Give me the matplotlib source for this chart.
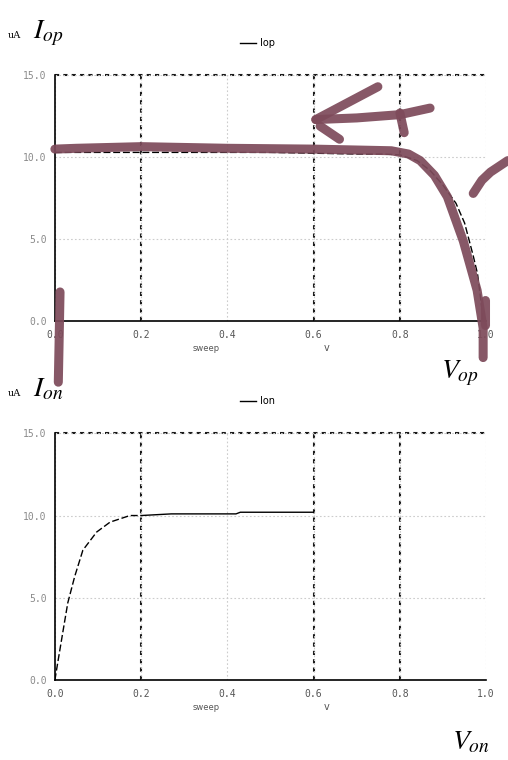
import matplotlib.pyplot as plt
from matplotlib.lines import Line2D

plt.rcParams['mathtext.fontset'] = 'stix'

# curve data (V in volts, I in uA)
v_op = [0.0, 0.1, 0.2, 0.3, 0.4, 0.5, 0.6, 0.7, 0.76, 0.80, 0.84, 0.87, 0.90, 0.93, 0.95, 0.97, 0.98, 0.99, 0.993]
i_op = [10.3, 10.3, 10.3, 10.3, 10.3, 10.3, 10.25, 10.2, 10.2, 10.15, 9.8, 9.2, 8.3, 7.2, 6.0, 4.0, 2.9, 0.8, 0.0]

v_on = [0.0, 0.005, 0.019, 0.03, 0.046, 0.065, 0.097, 0.128, 0.174, 0.2, 0.27, 0.42, 0.43, 0.6]
i_on = [0.0, 0.8, 3.0, 4.7, 6.3, 7.9, 9.0, 9.6, 10.0, 10.0, 10.1, 10.1, 10.2, 10.2]
n_rise = 10  # points of the rising (dashed) part of Ion

# hand-drawn marker strokes on the upper plot
mark_main_v = [0.0, 0.05, 0.2, 0.4, 0.6, 0.78, 0.82, 0.847, 0.88, 0.91, 0.947, 0.979, 0.993, 0.993]
mark_main_i = [10.5, 10.55, 10.65, 10.55, 10.5, 10.4, 10.2, 9.8, 8.9, 7.6, 4.9, 1.9, -0.4, -2.2]
mark_check_v = [0.749, 0.605]
mark_check_i = [14.3, 12.3]
mark_tail_v = [0.615, 0.66]
mark_tail_i = [11.9, 11.1]
mark_arm_v = [0.605, 0.70, 0.80, 0.87]
mark_arm_i = [12.3, 12.4, 12.6, 13.0]
mark_blob_v = [0.80, 0.81]
mark_blob_i = [12.7, 11.5]
mark_tip_v = [0.997, 0.997]
mark_tip_i = [1.3, -0.2]
mark_left_v = [0.012, 0.01, 0.008]
mark_left_i = [1.8, -1.0, -3.7]
mark_arc_v = [0.97, 0.99, 1.01, 1.05]
mark_arc_i = [7.8, 8.6, 9.1, 9.8]

x_ticks = [0.0, 0.2, 0.4, 0.6, 0.8, 1.0]
x_labels = ['0.0', '0.2', '0.4', '0.6', '0.8', '1.0']
y_ticks = [0.0, 5.0, 10.0, 15.0]
y_labels = ['0.0', '5.0', '10.0', '15.0']
heavy_v = [0.2, 0.6, 0.8]

marker_color = '#7e4b5b'
tick_color = '#8a8a8a'

fig = plt.figure(figsize=(5.08, 7.6), dpi=100)
ax1 = fig.add_axes([0.108, 0.577, 0.849, 0.324])
ax2 = fig.add_axes([0.108, 0.105, 0.849, 0.325])


def style_axes(ax):
    ax.set_xlim(0, 1.0)
    ax.set_ylim(0, 15.0)
    ax.set_xticks(x_ticks)
    ax.set_xticklabels(x_labels, family='DejaVu Sans Mono', fontsize=7, color='#555555')
    ax.set_yticks(y_ticks)
    ax.set_yticklabels(y_labels, family='DejaVu Sans Mono', fontsize=7, color=tick_color)
    ax.tick_params(length=0, pad=6)
    ax.grid(color='#cccccc', linestyle=(0, (1.5, 2)), linewidth=0.8)
    for v in heavy_v:
        ax.axvline(v, color='#1a1a1a', linestyle=(0, (2, 2)), linewidth=1.5, zorder=1)
    ax.axhline(15.0, color='#1a1a1a', linestyle=(0, (2, 2)), linewidth=1.5, clip_on=False, zorder=1)
    ax.spines['top'].set_visible(False)
    ax.spines['right'].set_visible(False)
    ax.spines['left'].set_linewidth(1.2)
    ax.spines['bottom'].set_linewidth(1.2)
    ax.text(0.35, -0.12, 'sweep', transform=ax.transAxes, fontsize=6, color='#555555', ha='center')
    ax.text(0.63, -0.12, 'v', transform=ax.transAxes, fontsize=7, color='#555555', ha='center')


style_axes(ax1)
style_axes(ax2)

# upper plot: Iop
ax1.plot(v_op, i_op, color='black', linewidth=1.0, linestyle=(0, (5, 2)), zorder=3)
stroke = dict(color=marker_color, linewidth=6.5, solid_capstyle='round', alpha=0.93, clip_on=False, zorder=4)
for sv, si in [(mark_main_v, mark_main_i), (mark_check_v, mark_check_i), (mark_tail_v, mark_tail_i),
               (mark_arm_v, mark_arm_i), (mark_blob_v, mark_blob_i), (mark_tip_v, mark_tip_i),
               (mark_left_v, mark_left_i), (mark_arc_v, mark_arc_i)]:
    ax1.plot(sv, si, **stroke)

# lower plot: Ion
ax2.plot(v_on[:n_rise], i_on[:n_rise], color='black', linewidth=1.0, linestyle=(0, (5, 2)), zorder=3)
ax2.plot(v_on[n_rise - 1:], i_on[n_rise - 1:], color='black', linewidth=1.0, zorder=3)

# labels and legends
for ax, ylab, leg in [(ax1, r'$I_{op}$', 'Iop'), (ax2, r'$I_{on}$', 'Ion')]:
    ax.text(-0.11, 1.15, 'uA', transform=ax.transAxes, fontsize=7, family='DejaVu Serif')
    ax.text(-0.05, 1.15, ylab, transform=ax.transAxes, fontsize=20)
    ax.legend([Line2D([0], [0], color='black', linewidth=1.0)], [leg], loc='center',
              bbox_to_anchor=(0.47, 1.13), frameon=False, fontsize=7, handlelength=1.6,
              handletextpad=0.4)

ax1.text(0.895, -0.23, r'$V_{op}$', transform=ax1.transAxes, fontsize=20)
ax2.text(0.92, -0.28, r'$V_{on}$', transform=ax2.transAxes, fontsize=20)

fig.savefig('out.png', dpi=100)
